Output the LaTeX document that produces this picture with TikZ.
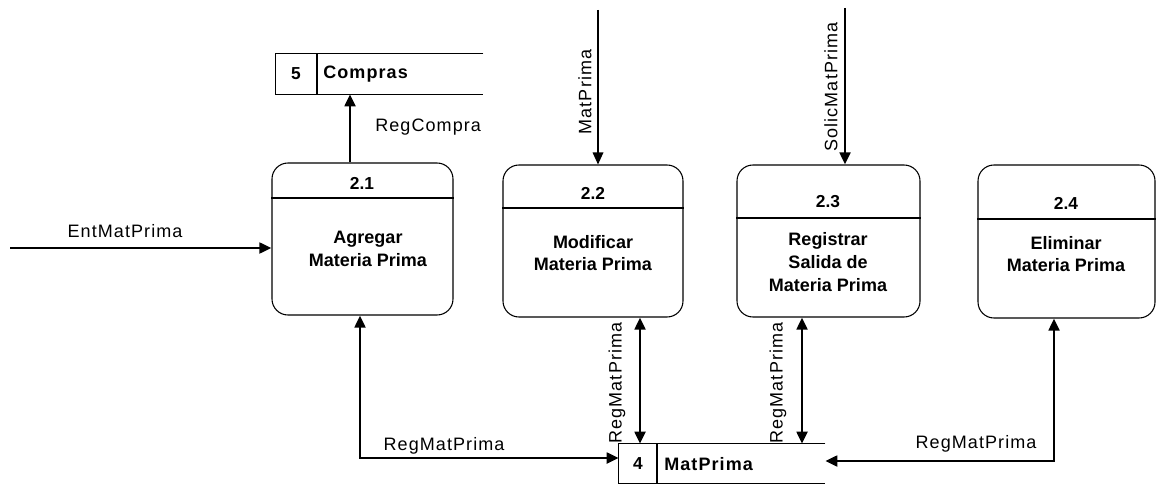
\documentclass[tikz,border=0pt]{standalone}
\usepackage{fontspec}
\setmainfont{Liberation Sans}
\newfontfamily\lblfont[LetterSpace=6]{Liberation Sans}
\usetikzlibrary{arrows.meta,fit}
\begin{document}
\begin{tikzpicture}[x=0.75pt,y=-0.75pt,
  proc/.style={draw,line width=0.8pt,rounded corners=12pt,inner sep=0pt},
  store/.style={draw=none,inner sep=0pt},
  sline/.style={line width=0.8pt},
  flow/.style={line width=2pt,-{Triangle[length=9pt,width=8pt]}},
  thinflow/.style={line width=0.9pt,-{Triangle[length=9pt,width=8pt]}},
  bflow/.style={line width=2pt,{Triangle[length=9pt,width=8pt]}-{Triangle[length=9pt,width=8pt]}},
  lbl/.style={font=\lblfont\fontsize{13.5}{15}\selectfont,inner sep=0pt},
  num/.style={font=\fontsize{13}{15}\selectfont\bfseries,inner sep=0pt},
  sname/.style={font=\lblfont\fontsize{13.5}{15}\selectfont\bfseries,inner sep=0pt,anchor=west},
  ptext/.style={font=\fontsize{13.5}{17}\selectfont\bfseries,align=center,inner sep=0pt}]
\useasboundingbox (0,0) rectangle (1159,485);

% processes
\node[proc,fit={(272,163) (453,315)}] (p1) {};
\node[proc,fit={(503,165) (683,317)}] (p2) {};
\node[proc,fit={(737,165) (920,317)}] (p3) {};
\node[proc,fit={(978,165) (1155,318)}] (p4) {};
\draw[sline] (p1.west |- 0,198) -- (p1.east |- 0,198);
\draw[sline] (p2.west |- 0,208) -- (p2.east |- 0,208);
\draw[sline] (p3.west |- 0,218) -- (p3.east |- 0,218);
\draw[sline] (p4.west |- 0,219) -- (p4.east |- 0,219);
\node[num] (n1) at (362,183) {2.1};
\node[num] (n2) at (593,193) {2.2};
\node[num] (n3) at (828,202) {2.3};
\node[num] (n4) at (1066,203) {2.4};
\node[ptext] (t1) at (368,249) {Agregar\\Materia Prima};
\node[ptext] (t2) at (593,253) {Modificar\\Materia Prima};
\node[ptext] (t3) at (828,262) {Registrar\\Salida de\\Materia Prima};
\node[ptext] (t4) at (1066,254) {Eliminar\\Materia Prima};

% store 5
\node[store,fit={(276,54) (483,94)}] (s5) {};
\draw[sline] (s5.north east) -- (s5.north west) -- (s5.south west) -- (s5.south east);
\draw[sline] (317,54) -- (317,94);
\node[num] (s5n) at (296,74) {5};
\node[sname] (s5t) at (323,74) {Compras};

% store 4
\node[store,fit={(619,444) (825,483)}] (s4) {};
\draw[sline] (s4.north east) -- (s4.north west) -- (s4.south west) -- (s4.south east);
\draw[sline] (657,444) -- (657,483);
\node[num] (s4n) at (638,464) {4};
\node[sname] (s4t) at (664,464) {MatPrima};

% external flows
\coordinate (e1) at (10,248);
\draw[flow] (e1) -- (p1.west |- e1);
\node[lbl] (l1) at (125,231) {EntMatPrima};

\draw[flow] (p1.north -| 350,0) -- (s5.south -| 350,0);
\node[lbl,anchor=west] (l2) at (375,127) {RegCompra};

\coordinate (e2) at (598,10);
\draw[thinflow] (e2) -- (p2.north -| e2);
\node[lbl,rotate=90] (l3) at (585,92) {MatPrima};

\coordinate (e3) at (845,8);
\draw[flow] (e3) -- (p3.north -| e3);
\node[lbl,rotate=90] (l4) at (831,87) {SolicMatPrima};

% flows to store 4
\draw[bflow] (p1.south -| 360,0) |- (s4.west |- 0,458);
\node[lbl] (l5) at (444,446) {RegMatPrima};

\draw[bflow] (p2.south -| 640,0) -- (s4.north -| 640,0);
\node[lbl,rotate=90] (l6) at (617,383) {RegMatPrima};

\draw[bflow] (p3.south -| 802,0) -- (s4.north -| 802,0);
\node[lbl,rotate=90] (l7) at (778,383) {RegMatPrima};

\draw[bflow] (p4.south -| 1054,0) |- (s4.east |- 0,461);
\node[lbl] (l8) at (976,444) {RegMatPrima};
\end{tikzpicture}
\end{document}
